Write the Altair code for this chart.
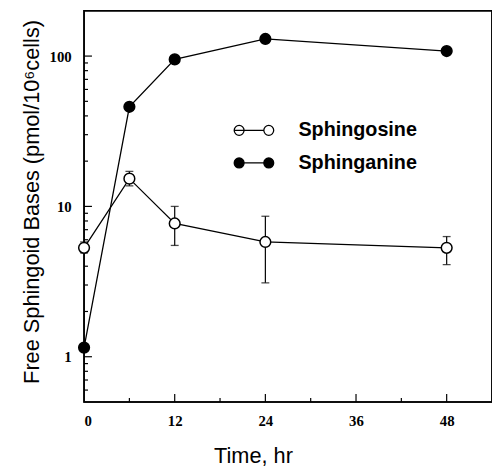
import altair as alt
import pandas as pd

time_hr = [0, 6, 12, 24, 48]
sphingosine = [5.3, 15.3, 7.7, 5.8, 5.3]
sphingosine_lo = [4.9, 13.7, 5.5, 3.1, 4.1]
sphingosine_hi = [5.8, 17.1, 10.0, 8.6, 6.3]
sphinganine = [1.15, 46.0, 95.0, 130.0, 108.0]
series_names = ["Sphingosine", "Sphinganine"]

x_major_ticks = [12, 24, 36, 48]
x_minor_ticks = [6, 18, 30, 42]
x_labels = [0, 12, 24, 36, 48]
y_major_ticks = [1, 10, 100]
y_minor_ticks = [0.6, 0.7, 0.8, 0.9, 2, 3, 4, 5, 6, 7, 8, 9,
                 20, 30, 40, 50, 60, 70, 80, 90]

rows = []
for i, t in enumerate(time_hr):
    rows.append({"t": t, "v": sphingosine[i], "lo": sphingosine_lo[i],
                 "hi": sphingosine_hi[i], "series": series_names[0]})
for i, t in enumerate(time_hr):
    rows.append({"t": t, "v": sphinganine[i], "lo": None, "hi": None,
                 "series": series_names[1]})
df = pd.DataFrame(rows)
err = df[df["series"] == series_names[0]]

W, H = 413, 396
xs = alt.Scale(domain=[0, 54], nice=False, zero=False)
ys = alt.Scale(type="log", domain=[0.5, 200], nice=False)

xax = alt.Axis(values=x_labels, format="d", ticks=False, domain=False, grid=False,
               labelFont="Liberation Serif", labelFontWeight="bold", labelFontSize=15,
               labelColor="black", labelPadding=12,
               title="Time, hr", titleFont="Liberation Sans", titleFontSize=22,
               titleFontWeight="normal", titleColor="black",
               titleX=171, titleY=54, titleBaseline="middle", titleAnchor="start", titleAlign="center")
yax = alt.Axis(values=y_major_ticks, format="d", ticks=False, domain=False, grid=False,
               labelFont="Liberation Serif", labelFontWeight="bold", labelFontSize=15,
               labelColor="black", labelPadding=13,
               title="Free Sphingoid Bases (pmol/10⁶cells)", titleFont="Liberation Sans",
               titleFontSize=22, titleFontWeight="normal", titleColor="black",
               titleX=-53, titleY=193, titleBaseline="middle", titleAngle=-90,
               titleAnchor="start", titleAlign="center")

base = alt.Chart(df)

frame = alt.Chart(pd.DataFrame({"k": [0]})).mark_rect(
    fill="transparent", stroke="black", strokeWidth=1.6).encode(
    x=alt.value(0), x2=alt.value(W), y=alt.value(0), y2=alt.value(H))

lines = base.mark_line(color="black", strokeWidth=1.3).encode(
    x=alt.X("t:Q", scale=xs, axis=xax),
    y=alt.Y("v:Q", scale=ys, axis=yax),
    detail="series:N",
)

bars = alt.Chart(err).mark_rule(color="black", strokeWidth=1.2).encode(
    x=alt.X("t:Q", scale=xs), y=alt.Y("lo:Q", scale=ys), y2="hi:Q")
cap_lo = alt.Chart(err).mark_tick(color="black", orient="horizontal", size=8, thickness=1.3).encode(
    x=alt.X("t:Q", scale=xs), y=alt.Y("lo:Q", scale=ys))
cap_hi = alt.Chart(err).mark_tick(color="black", orient="horizontal", size=8, thickness=1.3).encode(
    x=alt.X("t:Q", scale=xs), y=alt.Y("hi:Q", scale=ys))

sym = ("M-1,0 L-0.5,0 M-0.5,0 L0.5,0 "
       "M-1,0 A0.25,0.25 0 1,0 -0.5,0 A0.25,0.25 0 1,0 -1,0 "
       "M0.5,0 A0.25,0.25 0 1,0 1,0 A0.25,0.25 0 1,0 0.5,0 Z")

points = base.mark_point(filled=True, size=118, stroke="black", strokeWidth=1.5, opacity=1).encode(
    x=alt.X("t:Q", scale=xs),
    y=alt.Y("v:Q", scale=ys),
    fill=alt.Fill("series:N", scale=alt.Scale(domain=series_names, range=["white", "black"]),
                  legend=alt.Legend(title=None, orient="none", legendX=151, legendY=100,
                                    symbolType=sym, symbolSize=1600,
                                    symbolStrokeColor="black", symbolStrokeWidth=1.3,
                                    symbolOpacity=1,
                                    labelFont="Liberation Sans", labelFontWeight="bold",
                                    labelFontSize=20, labelColor="black", labelOffset=24,
                                    rowPadding=2)),
)

xt_major = alt.Chart(pd.DataFrame({"t": x_major_ticks})).mark_rule(color="black", strokeWidth=1.2).encode(
    x=alt.X("t:Q", scale=xs), y=alt.value(H), y2=alt.value(H - 8))
xt_minor = alt.Chart(pd.DataFrame({"t": x_minor_ticks})).mark_rule(color="black", strokeWidth=1.2).encode(
    x=alt.X("t:Q", scale=xs), y=alt.value(H), y2=alt.value(H - 4))
yt_major = alt.Chart(pd.DataFrame({"v": y_major_ticks})).mark_rule(color="black", strokeWidth=1.2).encode(
    y=alt.Y("v:Q", scale=ys), x=alt.value(0), x2=alt.value(8))
yt_minor = alt.Chart(pd.DataFrame({"v": y_minor_ticks})).mark_rule(color="black", strokeWidth=1.2).encode(
    y=alt.Y("v:Q", scale=ys), x=alt.value(0), x2=alt.value(4))

chart = alt.layer(frame, xt_major, xt_minor, yt_major, yt_minor, lines, bars, cap_lo, cap_hi, points).properties(
    width=W, height=H,
    padding={"left": 77, "top": 0, "right": 0, "bottom": 66},
    autosize=alt.AutoSizeParams(type="none"),
    background="white",
).configure_view(stroke="black", strokeWidth=1.5)

chart.save("out.html", embed_options={"renderer": "svg", "actions": False})
